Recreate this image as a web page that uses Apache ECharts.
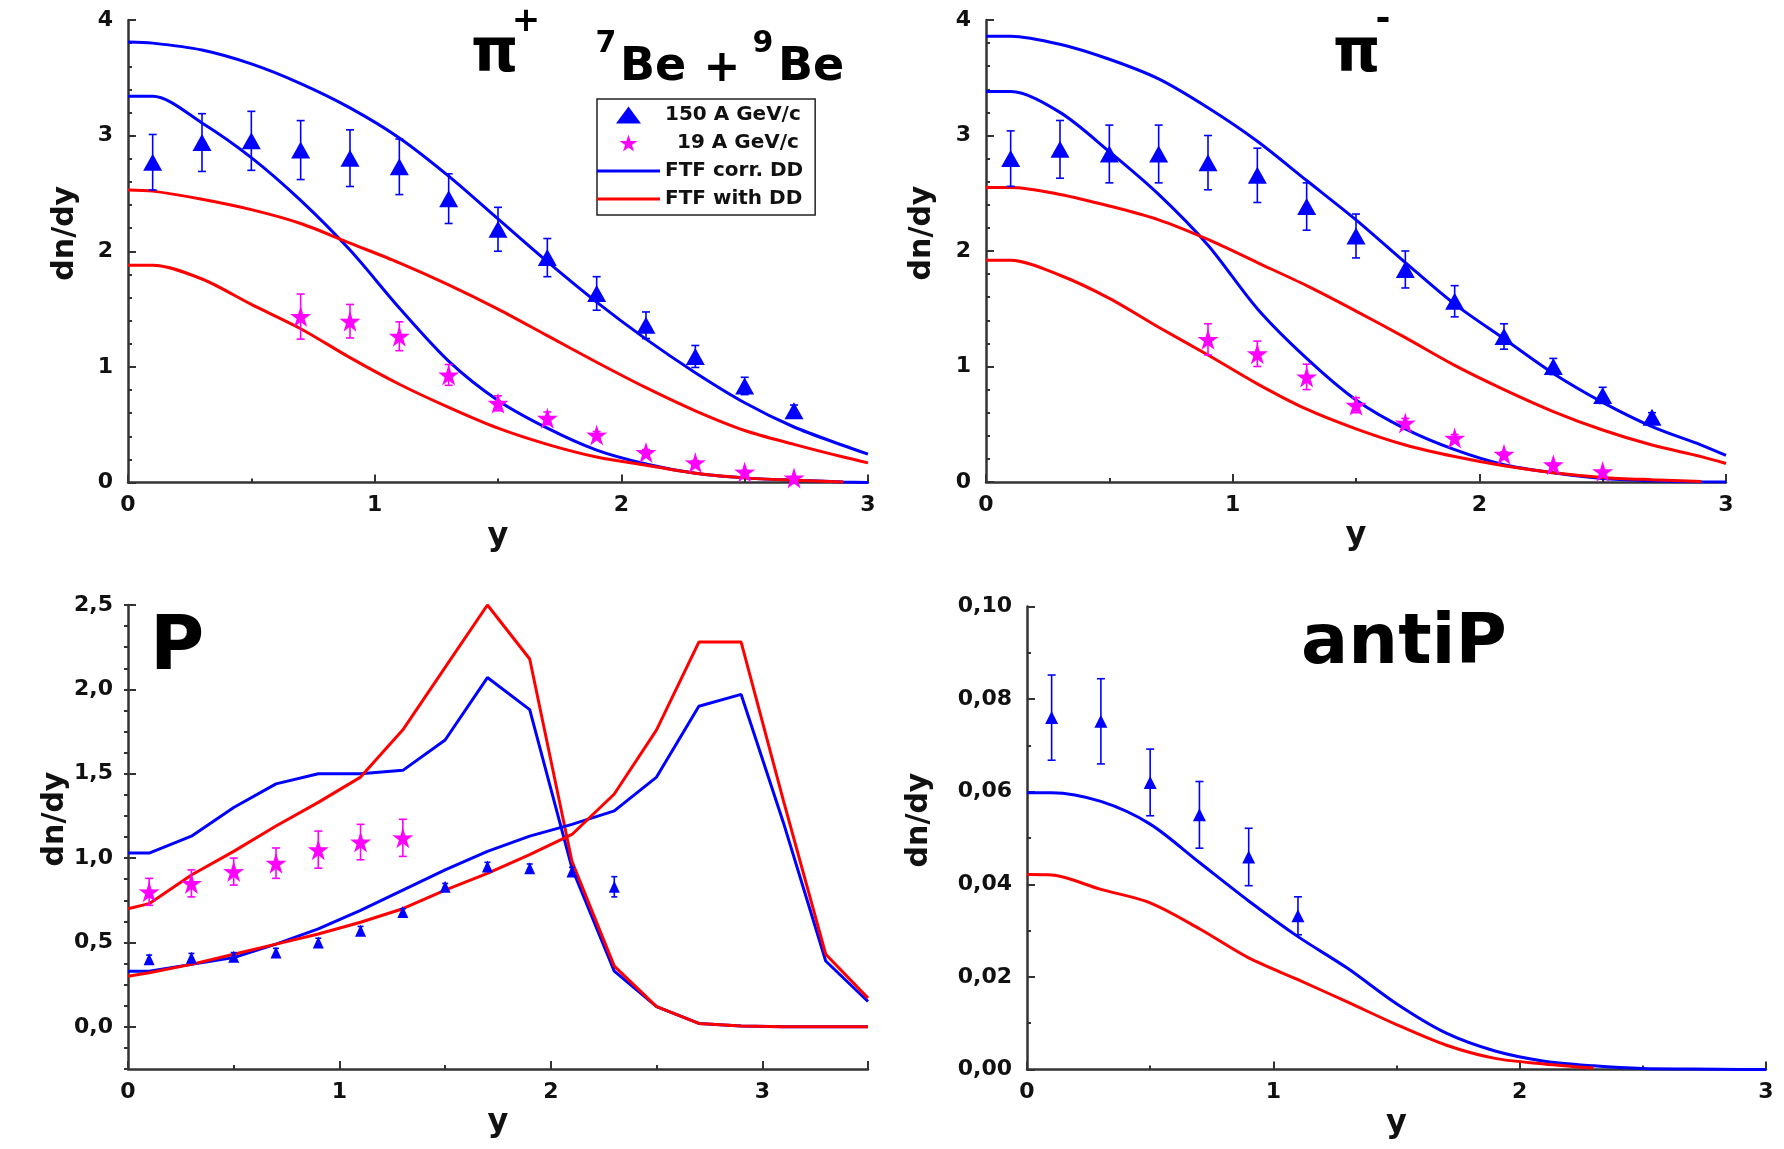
<!DOCTYPE html>
<html><head><meta charset="utf-8">
<script src="https://cdn.jsdelivr.net/npm/echarts@6/dist/echarts.min.js"></script>
<style>html,body{margin:0;padding:0;background:#fff}#c{width:1784px;height:1149px}</style>
</head><body><div id="c"></div>
<script>
// ---------- data ----------
// rapidity grid for model curves (pi+, pi-, antiP)
const curveY = [0, 0.1, 0.3, 0.5, 0.7, 0.9, 1.1, 1.3, 1.5, 1.7, 1.9, 2.1, 2.3, 2.5, 2.7, 2.9, 3.0];
// rapidity grid for proton model curves
const curveYP = [0, 0.1, 0.3, 0.5, 0.7, 0.9, 1.1, 1.3, 1.5, 1.7, 1.9, 2.1, 2.3, 2.5, 2.7, 2.9, 3.1, 3.3, 3.5];

// pi+ panel
const piP150X = [0.1, 0.3, 0.5, 0.7, 0.9, 1.1, 1.3, 1.5, 1.7, 1.9, 2.1, 2.3, 2.5, 2.7];
const piP150 = [2.77, 2.94, 2.955, 2.875, 2.805, 2.73, 2.455, 2.19, 1.945, 1.635, 1.36, 1.09, 0.835, 0.62];
const piP150Err = [0.24, 0.25, 0.255, 0.255, 0.245, 0.24, 0.215, 0.19, 0.165, 0.145, 0.115, 0.095, 0.075, 0.05];
const piP19X = [0.7, 0.9, 1.1, 1.3, 1.5, 1.7, 1.9, 2.1, 2.3, 2.5, 2.7];
const piP19 = [1.435, 1.395, 1.265, 0.93, 0.685, 0.555, 0.41, 0.26, 0.17, 0.09, 0.04];
const piP19Err = [0.195, 0.145, 0.125, 0.09, 0.065, 0.055, 0.03, 0.025, 0.02, 0.015, 0.01];
const piPCorr150 = [3.81, 3.80, 3.74, 3.62, 3.45, 3.24, 2.98, 2.65, 2.28, 1.91, 1.56, 1.24, 0.95, 0.69, 0.48, 0.32, 0.245];
const piPCorr19 = [3.34, 3.34, 3.11, 2.81, 2.44, 2.01, 1.51, 1.05, 0.71, 0.47, 0.28, 0.16, 0.08, 0.04, 0.02, 0.005, 0.0];
const piPDD150 = [2.53, 2.52, 2.45, 2.36, 2.24, 2.07, 1.90, 1.71, 1.50, 1.27, 1.04, 0.82, 0.62, 0.45, 0.33, 0.22, 0.17];
const piPDD19 = [1.88, 1.88, 1.76, 1.54, 1.33, 1.08, 0.85, 0.65, 0.47, 0.33, 0.22, 0.15, 0.08, 0.04, 0.02, 0.005, null];

// pi- panel
const piM150X = [0.1, 0.3, 0.5, 0.7, 0.9, 1.1, 1.3, 1.5, 1.7, 1.9, 2.1, 2.3, 2.5, 2.7];
const piM150 = [2.80, 2.88, 2.84, 2.84, 2.765, 2.655, 2.385, 2.13, 1.84, 1.565, 1.26, 1.0, 0.75, 0.56];
const piM150Err = [0.24, 0.25, 0.25, 0.25, 0.235, 0.235, 0.205, 0.19, 0.16, 0.135, 0.11, 0.07, 0.07, 0.04];
const piM19X = [0.9, 1.1, 1.3, 1.5, 1.7, 1.9, 2.1, 2.3, 2.5];
const piM19 = [1.235, 1.11, 0.91, 0.665, 0.51, 0.38, 0.24, 0.15, 0.09];
const piM19Err = [0.135, 0.11, 0.11, 0.065, 0.04, 0.03, 0.02, 0.015, 0.01];
const piMCorr150 = [3.86, 3.86, 3.79, 3.66, 3.49, 3.24, 2.95, 2.61, 2.27, 1.90, 1.54, 1.24, 0.94, 0.69, 0.48, 0.32, 0.23];
const piMCorr19 = [3.38, 3.38, 3.20, 2.86, 2.49, 2.05, 1.50, 1.07, 0.71, 0.46, 0.28, 0.15, 0.08, 0.03, 0.01, 0.0, 0.0];
const piMDD150 = [2.55, 2.55, 2.49, 2.39, 2.27, 2.10, 1.90, 1.70, 1.48, 1.25, 1.01, 0.80, 0.61, 0.45, 0.32, 0.22, 0.16];
const piMDD19 = [1.92, 1.92, 1.79, 1.59, 1.34, 1.10, 0.85, 0.63, 0.46, 0.32, 0.22, 0.14, 0.08, 0.04, 0.02, 0.005, null];

// proton panel
const pr150X = [0.1, 0.3, 0.5, 0.7, 0.9, 1.1, 1.3, 1.5, 1.7, 1.9, 2.1, 2.3];
const pr150 = [0.40, 0.41, 0.415, 0.44, 0.50, 0.57, 0.68, 0.83, 0.95, 0.94, 0.92, 0.83];
const pr150Err = [0.025, 0.025, 0.025, 0.025, 0.025, 0.025, 0.02, 0.02, 0.025, 0.025, 0.025, 0.06];
const pr19X = [0.1, 0.3, 0.5, 0.7, 0.9, 1.1, 1.3];
const pr19 = [0.80, 0.85, 0.92, 0.97, 1.05, 1.095, 1.12];
const pr19Err = [0.08, 0.08, 0.08, 0.09, 0.11, 0.105, 0.11];
const prCorr19 = [1.03, 1.03, 1.13, 1.30, 1.44, 1.50, 1.50, 1.52, 1.70, 2.07, 1.88, 0.94, 0.33, 0.12, 0.02, 0.005, 0.0, 0.0, 0.0];
const prDD19 = [0.70, 0.73, 0.90, 1.04, 1.19, 1.33, 1.48, 1.76, 2.13, 2.50, 2.18, 0.98, 0.36, 0.12, 0.02, 0.005, 0.0, 0.0, 0.0];
const prCorr150 = [0.33, 0.33, 0.37, 0.41, 0.49, 0.58, 0.69, 0.81, 0.93, 1.04, 1.13, 1.20, 1.28, 1.48, 1.90, 1.97, 1.21, 0.39, 0.15];
const prDD150 = [0.30, 0.32, 0.37, 0.43, 0.49, 0.55, 0.62, 0.70, 0.81, 0.91, 1.02, 1.14, 1.38, 1.76, 2.28, 2.28, 1.34, 0.43, 0.17];

// antiproton panel
const ap150X = [0.1, 0.3, 0.5, 0.7, 0.9, 1.1];
const ap150 = [0.076, 0.0752, 0.062, 0.055, 0.0459, 0.0332];
const ap150Err = [0.0092, 0.0092, 0.0072, 0.0072, 0.0062, 0.0041];
const apCorr150 = [0.0598, 0.0598, 0.0579, 0.053, 0.0447, 0.0364, 0.0287, 0.0219, 0.0142, 0.0079, 0.004, 0.0018, 0.0008, 0.0002, 0.0001, 0.0, 0.0];
const apDD150 = [0.0421, 0.042, 0.0389, 0.036, 0.0304, 0.0241, 0.0194, 0.0146, 0.0097, 0.0053, 0.0024, 0.0012, 0.0003, null, null, null, null];

// tick labels
const xTicks = [0, 1, 2, 3];
const yTicksPi = [0, 1, 2, 3, 4];
const yTicksP = [0, 0.5, 1, 1.5, 2, 2.5];
const yTicksAP = [0, 0.02, 0.04, 0.06, 0.08, 0.10];

// legend names
const N150 = '150 A GeV/c', N19 = '19 A GeV/c', NCORR = 'FTF corr. DD', NDD = 'FTF with DD';

// ---------- styling ----------
const BLUE = '#0000ff', RED = '#ff0000', MAG = '#ff00ff', AX = '#333333';
const FONT = 'DejaVu Sans';
const STAR = 'path://M50 0 L61.17 34.63 L97.55 34.55 L68.07 55.87 L79.39 90.45 L50 69 L20.61 90.45 L31.93 55.87 L2.45 34.55 L38.83 34.63 Z';
const TRI_ICON = 'path://M50 0 L100 68 L0 68 Z';
const LINE_ICON = 'path://M0 0 L63 0 L63 3 L0 3 Z';

const grids = [
  {left: 128, top: 20, width: 740, height: 462.5},
  {left: 986, top: 20, width: 740, height: 462},
  {left: 128, top: 605, width: 740, height: 464},
  {left: 1027, top: 606.5, width: 739, height: 463}
];

const labelStyle = {fontFamily: FONT, fontWeight: 'bold', fontSize: 22, color: '#111'};
function xAxisCfg(gi, max) {
  return {
    type: 'value', gridIndex: gi, min: 0, max: max, interval: 1,
    name: 'y', nameLocation: 'middle', nameGap: 38,
    nameTextStyle: {fontFamily: FONT, fontWeight: 'bold', fontSize: 32, color: '#111'},
    axisLine: {show: true, onZero: false, lineStyle: {color: AX, width: 2.5}},
    axisTick: {show: true, inside: true, length: 8, lineStyle: {color: AX, width: 2}},
    minorTick: {show: true, splitNumber: 2, length: 4, lineStyle: {color: AX, width: 2}},
    splitLine: {show: false}, minorSplitLine: {show: false},
    axisLabel: Object.assign({margin: 12, customValues: xTicks.filter(v => v <= max)}, labelStyle)
  };
}
function yAxisCfg(gi, min, max, interval, minorSplit, ticks, dec, gap) {
  return {
    type: 'value', gridIndex: gi, min: min, max: max, interval: interval,
    name: 'dn/dy', nameLocation: 'middle', nameGap: gap, nameRotate: 90,
    nameTextStyle: {fontFamily: FONT, fontWeight: 'bold', fontSize: 30, color: '#111', padding: [0, 0, 0, 36]},
    axisLine: {show: true, onZero: false, lineStyle: {color: AX, width: 2.5}},
    axisTick: {show: true, inside: true, length: 8, lineStyle: {color: AX, width: 2}},
    minorTick: {show: minorSplit > 0, splitNumber: minorSplit || 2, length: 4, lineStyle: {color: AX, width: 2}},
    splitLine: {show: false}, minorSplitLine: {show: false},
    axisLabel: Object.assign({margin: 15, customValues: ticks, formatter: v => v.toFixed(dec).replace('.', ',')}, labelStyle)
  };
}

const xAxes = [xAxisCfg(0, 3), xAxisCfg(1, 3), xAxisCfg(2, 3.5), xAxisCfg(3, 3)];
const yP = yAxisCfg(2, -0.25, 2.5, 0.25, 0, yTicksP, 1, 50);
yP.axisTick.customValues = yTicksP;
const yPminor = {
  type: 'value', gridIndex: 2, min: -0.25, max: 2.5, interval: 0.125,
  axisLine: {show: false}, axisLabel: {show: false}, splitLine: {show: false},
  axisTick: {show: true, inside: true, length: 4, lineStyle: {color: AX, width: 2}}
};
const yAxes = [
  yAxisCfg(0, 0, 4, 1, 5, yTicksPi, 0, 48),
  yAxisCfg(1, 0, 4, 1, 5, yTicksPi, 0, 49),
  yP,
  yAxisCfg(3, 0, 0.1, 0.02, 2, yTicksAP, 2, 93),
  yPminor
];

function curve(name, gi, yi, xs, ys, color, smooth) {
  return {
    type: 'line', name: name, xAxisIndex: gi, yAxisIndex: yi,
    data: xs.map((x, i) => [x, ys[i]]),
    symbol: 'none', smooth: smooth, connectNulls: false,
    lineStyle: {color: color, width: 3}, itemStyle: {color: color}, z: 3, silent: true
  };
}
function points(name, gi, yi, xs, ys, symbol, size, color) {
  return {
    type: 'scatter', name: name, xAxisIndex: gi, yAxisIndex: yi,
    data: xs.map((x, i) => [x, ys[i]]),
    symbol: symbol, symbolSize: size, itemStyle: {color: color, opacity: 1}, z: 6, silent: true
  };
}
function errBars(name, gi, yi, xs, ys, es, color, cap) {
  return {
    type: 'custom', name: name, xAxisIndex: gi, yAxisIndex: yi,
    data: xs.map((x, i) => [x, ys[i] - es[i], ys[i] + es[i]]),
    encode: {x: 0, y: [1, 2]}, z: 5, silent: true,
    renderItem: function (params, api) {
      const x = api.value(0);
      const lo = api.coord([x, api.value(1)]);
      const hi = api.coord([x, api.value(2)]);
      const st = {stroke: color, lineWidth: 1.6};
      return {type: 'group', children: [
        {type: 'line', shape: {x1: lo[0], y1: lo[1], x2: hi[0], y2: hi[1]}, style: st},
        {type: 'line', shape: {x1: hi[0] - cap, y1: hi[1], x2: hi[0] + cap, y2: hi[1]}, style: st},
        {type: 'line', shape: {x1: lo[0] - cap, y1: lo[1], x2: lo[0] + cap, y2: lo[1]}, style: st}
      ]};
    }
  };
}

const SM = 0.3;
const series = [
  // pi+
  curve(NCORR, 0, 0, curveY, piPCorr150, BLUE, SM),
  curve(NCORR, 0, 0, curveY, piPCorr19, BLUE, SM),
  curve(NDD, 0, 0, curveY, piPDD150, RED, SM),
  curve(NDD, 0, 0, curveY, piPDD19, RED, SM),
  errBars('e1', 0, 0, piP150X, piP150, piP150Err, BLUE, 4),
  errBars('e2', 0, 0, piP19X, piP19, piP19Err, MAG, 4),
  points(N150, 0, 0, piP150X, piP150, 'triangle', [19, 17], BLUE),
  points(N19, 0, 0, piP19X, piP19, STAR, 21, MAG),
  // pi-
  curve(NCORR, 1, 1, curveY, piMCorr150, BLUE, SM),
  curve(NCORR, 1, 1, curveY, piMCorr19, BLUE, SM),
  curve(NDD, 1, 1, curveY, piMDD150, RED, SM),
  curve(NDD, 1, 1, curveY, piMDD19, RED, SM),
  errBars('e3', 1, 1, piM150X, piM150, piM150Err, BLUE, 4),
  errBars('e4', 1, 1, piM19X, piM19, piM19Err, MAG, 4),
  points(N150, 1, 1, piM150X, piM150, 'triangle', [19, 17], BLUE),
  points(N19, 1, 1, piM19X, piM19, STAR, 21, MAG),
  // protons
  curve(NCORR, 2, 2, curveYP, prCorr19, BLUE, false),
  curve(NDD, 2, 2, curveYP, prDD19, RED, false),
  curve(NCORR, 2, 2, curveYP, prCorr150, BLUE, false),
  curve(NDD, 2, 2, curveYP, prDD150, RED, false),
  errBars('e5', 2, 2, pr150X, pr150, pr150Err, BLUE, 3),
  errBars('e6', 2, 2, pr19X, pr19, pr19Err, MAG, 4),
  points(N150, 2, 2, pr150X, pr150, 'triangle', [11, 12], BLUE),
  points(N19, 2, 2, pr19X, pr19, STAR, 21, MAG),
  // antiprotons
  curve(NCORR, 3, 3, curveY, apCorr150, BLUE, SM),
  curve(NDD, 3, 3, curveY, apDD150, RED, SM),
  errBars('e7', 3, 3, ap150X, ap150, ap150Err, BLUE, 4),
  points(N150, 3, 3, ap150X, ap150, 'triangle', [13, 13], BLUE)
];

function txt(text, x, y, size, align) {
  return {type: 'text', x: x, y: y, silent: true, z: 20,
    style: {text: text, font: 'bold ' + size + 'px "' + FONT + '"', fill: '#000',
      align: align || 'left', verticalAlign: 'middle'}};
}
const graphics = [
  txt('\u03c0', 471, 55, 60),
  txt('+', 526, 22, 34, 'center'),
  txt('7', 606, 44, 30, 'center'),
  txt('Be', 620, 68, 46),
  txt('+', 722, 70, 44, 'center'),
  txt('9', 763, 44, 30, 'center'),
  txt('Be', 778, 68, 46),
  txt('\u03c0', 1333, 55, 60),
  txt('-', 1383, 21, 36, 'center'),
  txt('P', 150, 650, 74),
  txt('antiP', 1404, 645, 70, 'center')
];

const chart = echarts.init(document.getElementById('c'), null, {renderer: 'canvas'});
chart.setOption({
  backgroundColor: '#ffffff',
  animation: false,
  grid: grids,
  xAxis: xAxes,
  yAxis: yAxes,
  legend: {
    left: 597, top: 99, orient: 'vertical', selectedMode: false,
    data: [
      {name: N150, icon: TRI_ICON},
      {name: N19, icon: STAR, textStyle: {padding: [0, 0, 0, 12]}},
      {name: NCORR, icon: LINE_ICON},
      {name: NDD, icon: LINE_ICON}
    ],
    itemWidth: 63, itemHeight: 17, itemGap: 8,
    padding: [6, 12, 6, 0], borderColor: '#222', borderWidth: 1.5, backgroundColor: '#fff',
    textStyle: {fontFamily: FONT, fontWeight: 'bold', fontSize: 20, color: '#111'}
  },
  graphic: graphics,
  series: series
});
</script></body></html>
